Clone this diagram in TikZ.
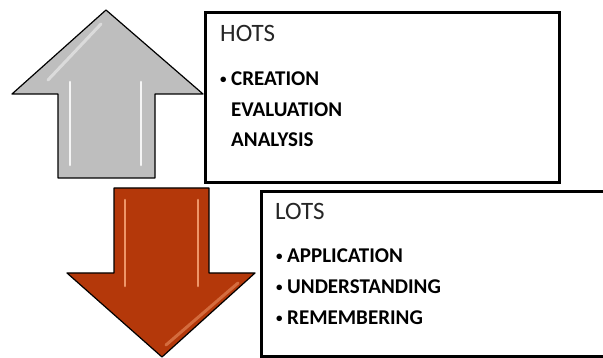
\documentclass[tikz,border=0pt]{standalone}
\usepackage{fontspec}
\setmainfont{Carlito}
\newcommand{\smallbul}{\makebox[11pt][l]{\raisebox{2.6pt}{\fontsize{13}{13}\selectfont •}}}
\begin{document}
\begin{tikzpicture}[x=1pt,y=-1pt,
  box/.style={draw=black,line width=3.2pt,fill=white,inner sep=0pt},
  arrowline/.style={draw=black,line width=1.2pt,line join=round},
  hl/.style={line width=2.6pt,line cap=round},
  title/.style={anchor=base west,inner sep=0pt,font=\fontsize{25}{25}\selectfont,text=black!85},
  item/.style={anchor=base west,inner sep=0pt,font=\fontsize{21}{21}\selectfont\bfseries}]
\clip (0,0) rectangle (603,358);
\fill[white] (0,0) rectangle (603,358);
\definecolor{upgray}{RGB}{190,190,190}
\definecolor{downred}{RGB}{180,56,10}
\definecolor{downlight}{RGB}{238,150,105}
% up arrow
\draw[arrowline,fill=upgray] (106,10) -- (203,94) -- (155,94) -- (155,178) -- (58,178) -- (58,94) -- (12,94) -- cycle;
\draw[hl,white!85!upgray] (70,82) -- (70,165);
\draw[hl,white!85!upgray] (141,82) -- (141,165);
\draw[line width=3pt,white!45!upgray,line cap=round] (48,80) -- (101,24);
% down arrow
\draw[arrowline,fill=downred] (114,188) -- (209,188) -- (209,273) -- (255,273) -- (162,357) -- (67,273) -- (114,273) -- cycle;
\draw[hl,downlight] (125,200) -- (125,286);
\draw[hl,downlight] (198,200) -- (198,286);
\draw[line width=3pt,downlight!55!downred,line cap=round] (238,283) -- (166,345);
% HOTS box
\node[box,minimum width=354pt,minimum height=170pt,anchor=north west] (hots) at (204,11) {};
\node[title] (hotst) at (220,42) {HOTS};
\node[item] (h1) at (220,86) {\smallbul CREATION};
\node[item] (h2) at (231,117) {EVALUATION};
\node[item] (h3) at (231,147) {ANALYSIS};
% LOTS box
\node[box,minimum width=360pt,minimum height=165pt,anchor=north west] (lots) at (260,190) {};
\node[title] (lotst) at (275,220) {LOTS};
\node[item] (l1) at (276,263) {\smallbul APPLICATION};
\node[item] (l2) at (276,294) {\smallbul UNDERSTANDING};
\node[item] (l3) at (276,325) {\smallbul REMEMBERING};
\end{tikzpicture}
\end{document}
